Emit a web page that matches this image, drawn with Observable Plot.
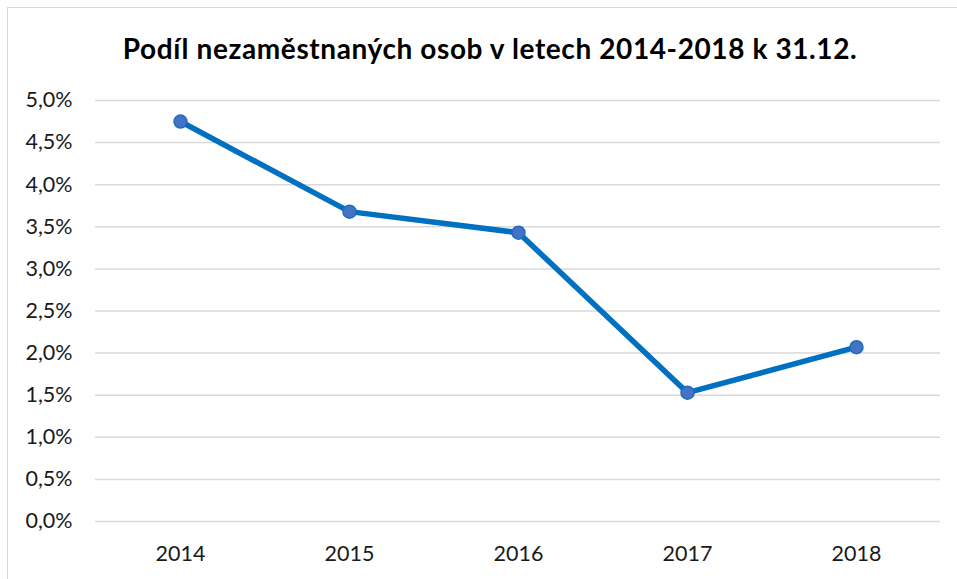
<!DOCTYPE html>
<html>
<head>
<meta charset="utf-8">
<script src="https://cdn.jsdelivr.net/npm/d3@7"></script>
<script src="https://cdn.jsdelivr.net/npm/@observablehq/plot@0.6"></script>
<style>
  html, body { margin: 0; padding: 0; background: #fff; }
  #wrap { position: relative; width: 957px; height: 579px; overflow: hidden; background: #fff; }
  #frame { position: absolute; left: 7px; top: 7px; width: 970px; height: 600px; border: 1.5px solid #d9d9d9; box-sizing: border-box; }
  #title { position: absolute; left: 0; top: 32px; width: 980px; text-align: center; font-family: Lato, "Open Sans", sans-serif; font-weight: bold; font-size: 28px; letter-spacing: 0.6px; line-height: 1.2; color: #000; white-space: nowrap; }
  #chart { position: absolute; left: 0; top: 0; }
</style>
</head>
<body>
<div id="wrap">
  <div id="frame"></div>
  <div id="title">Podíl nezaměstnaných osob v letech 2014-2018 k 31.12.</div>
  <div id="chart"></div>
</div>
<script>
const years = ["2014", "2015", "2016", "2017", "2018"];
const shares = [0.0475, 0.0368, 0.0343, 0.0153, 0.0207];
const yTicks = [0, 0.005, 0.01, 0.015, 0.02, 0.025, 0.03, 0.035, 0.04, 0.045, 0.05];

const data = years.map((y, i) => ({year: y, value: shares[i]}));
const fmt = d => (d * 100).toFixed(1).replace(".", ",") + "%";

const plot = Plot.plot({
  width: 957,
  height: 579,
  marginLeft: 95,
  marginRight: 17,
  marginTop: 100,
  marginBottom: 58,
  style: { fontFamily: "Lato, 'Open Sans', sans-serif", fontSize: "21.5px", color: "#1a1a1a", background: "transparent" },
  x: { type: "point", domain: years, padding: 0.5, label: null, tickSize: 0, tickPadding: 24 },
  y: { domain: [0, 0.05], ticks: yTicks, tickFormat: fmt, label: null, tickSize: 0, tickPadding: 23 },
  marks: [
    Plot.ruleY(yTicks, { stroke: "#d9d9d9", strokeWidth: 1.5 }),
    Plot.line(data, { x: "year", y: "value", stroke: "#0070C0", strokeWidth: 5.5, strokeLinejoin: "round", strokeLinecap: "round" }),
    Plot.dot(data, { x: "year", y: "value", r: 6.5, fill: "#4472C4", stroke: "#1f6cc0", strokeWidth: 1.5 })
  ]
});
document.getElementById("chart").appendChild(plot);
</script>
</body>
</html>
